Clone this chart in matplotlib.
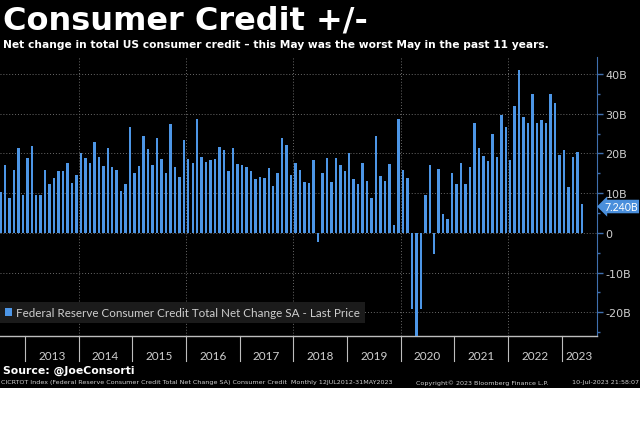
import numpy as np
import pandas as pd
import matplotlib
matplotlib.use("Agg")
import matplotlib.pyplot as plt
from matplotlib.patches import Rectangle

# Monthly net change in US consumer credit, $B (Jul 2012 - May 2023)
start_month = "2012-07-01"
net_change = [
    10.3, 17.1, 8.7, 15.9, 21.5, 9.6,                                  # 2012 H2
    18.8, 21.9, 9.6, 9.6, 15.9, 12.3, 13.9, 15.6, 15.6, 17.7, 12.5, 14.7,  # 2013
    20.2, 18.8, 17.5, 23.0, 19.0, 16.8, 21.5, 16.6, 15.9, 10.5, 12.4, 26.7,  # 2014
    15.0, 16.9, 24.5, 21.1, 17.2, 24.0, 18.6, 15.0, 27.3, 16.6, 14.0, 23.5,  # 2015
    18.7, 17.7, 28.7, 19.0, 17.9, 18.4, 18.6, 21.7, 20.8, 15.7, 21.3, 17.4,  # 2016
    17.2, 16.7, 15.6, 13.6, 14.0, 13.7, 16.3, 11.8, 15.1, 23.9, 22.1, 14.5,  # 2017
    17.6, 15.8, 12.8, 12.5, 18.3, -2.4, 15.2, 18.8, 12.7, 18.8, 17.1, 15.6,  # 2018
    20.1, 13.5, 12.3, 17.5, 13.1, 8.7, 24.4, 14.3, 13.1, 17.3, 2.0, 28.7,    # 2019
    15.8, 13.7, -19.2, -26.0, -19.2, 9.5, 17.0, -5.4, 16.2, 4.7, 3.5, 15.2,  # 2020
    12.2, 17.7, 12.2, 16.6, 27.7, 21.5, 19.4, 18.2, 24.8, 19.2, 29.7, 26.7,  # 2021
    18.3, 31.9, 40.9, 29.2, 27.8, 35.1, 27.8, 28.4, 27.8, 35.0, 32.8, 19.6,  # 2022
    20.9, 11.6, 19.0, 20.3, 7.24,                                      # 2023
]
years = list(range(2013, 2024))
yticks = [-20, -10, 0, 10, 20, 30, 40]
ytick_labels = ["-20B", "-10B", "0", "10B", "20B", "30B", "40B"]

title = "Consumer Credit +/-"
subtitle = "Net change in total US consumer credit \u2013 this May was the worst May in the past 11 years."
legend_label = "Federal Reserve Consumer Credit Total Net Change SA - Last Price"

months = pd.date_range(start_month, periods=len(net_change), freq="MS")
idx = np.arange(len(months))
first_year = months[0].year

bar_color = "#4d96e6"
text_grey = "#cfcfcf"
axis_blue = "#3f6fae"

fig = plt.figure(figsize=(6.4, 4.27), dpi=100, facecolor="black")
fig.patches.append(Rectangle((0, 0), 1, 38 / 427, transform=fig.transFigure,
                             facecolor="white", edgecolor="none", zorder=0))

ax = fig.add_axes([0.0, (427 - 336.7) / 427, 597 / 640, (336.7 - 58) / 427])
ax.set_facecolor("black")

bars = ax.bar(idx, net_change, width=0.55, color=bar_color, label=legend_label, zorder=3)

ax.set_xlim(-0.1, 133.4)
ax.set_ylim(-25.9, 44.3)

# right hand y axis
ax.yaxis.tick_right()
ax.set_yticks(yticks)
ax.set_yticklabels(ytick_labels)
ax.set_yticks(np.arange(-25, 45, 5), minor=True)
ax.tick_params(axis="y", which="major", colors=axis_blue, labelcolor=text_grey,
               labelsize=8, length=4, width=1, pad=2)
ax.tick_params(axis="y", which="minor", colors=axis_blue, length=2, width=1)
ax.set_xticks([])
for s in ["top", "left"]:
    ax.spines[s].set_visible(False)
ax.spines["right"].set_color(axis_blue)
ax.spines["bottom"].set_color("#bdbdbd")
ax.spines["bottom"].set_linewidth(1.0)

# grid
for y in yticks:
    ax.axhline(y, color="#6a6a6a", lw=0.7, ls=(0, (1, 2)), zorder=1)
year_edges = [(y - first_year) * 12 - months[0].month + 1 - 0.5 for y in years]
for y, e in zip(years, year_edges):
    if y % 2 == 0:
        ax.axvline(e, color="#6a6a6a", lw=0.7, ls=(0, (1, 2)), zorder=1)

# year strip under the axis
xtrans = ax.get_xaxis_transform()
strip = 25 / (336.7 - 58)
for y, e in zip(years, year_edges):
    ax.plot([e, e], [0, -strip], color="#bdbdbd", lw=0.8, transform=xtrans, clip_on=False)
    centre = e + 4.0 if y == years[-1] else e + 6
    ax.text(centre, -0.072, str(y), transform=xtrans, ha="center", va="center",
            color=text_grey, fontsize=8.5, family="Lato")

# last value tag
ax.annotate(f"{net_change[-1]:.3f}B", xy=(1.0, net_change[-1]), xycoords=ax.get_yaxis_transform(),
            xytext=(1.012, net_change[-1] - 0.6), textcoords=ax.get_yaxis_transform(),
            ha="left", va="center", color="white", fontsize=7.6, family="Lato",
            bbox=dict(boxstyle="larrow,pad=0.12", fc="#4a8fdc", ec="none"), annotation_clip=False)

leg = ax.legend(handles=[bars], loc="lower left", bbox_to_anchor=(0.0, 0.045), frameon=True,
                fancybox=False, handlelength=0.6, handleheight=0.6, handletextpad=0.3,
                borderpad=0.45, borderaxespad=0, prop={"family": "Lato", "size": 8.4})
leg.get_frame().set_facecolor("#1b1b1b")
leg.get_frame().set_edgecolor("none")
leg.get_frame().set_alpha(1)
for t in leg.get_texts():
    t.set_color(text_grey)

# titles and footer
fig.text(0.004, 1 - 21 / 427, title, color="white", fontsize=23, fontweight="bold",
         family="DejaVu Sans", va="center", ha="left")
fig.text(0.004, 1 - 45 / 427, subtitle, color="white", fontsize=7.7, fontweight="bold",
         family="DejaVu Sans", va="center", ha="left")
fig.text(0.005, 1 - 371 / 427, "Source: @JoeConsorti", color="white", fontsize=7.8,
         fontweight="bold", family="DejaVu Sans", va="center", ha="left")
fig.text(0.002, 1 - 383 / 427,
         "CICRTOT Index (Federal Reserve Consumer Credit Total Net Change SA) Consumer Credit  Monthly 12JUL2012-31MAY2023",
         color=text_grey, fontsize=4.6, family="DejaVu Sans", va="center", ha="left")
fig.text(416 / 640, 1 - 383 / 427, "Copyright\u00a9 2023 Bloomberg Finance L.P.", color=text_grey,
         fontsize=4.6, family="DejaVu Sans", va="center", ha="left")
fig.text(0.999, 1 - 383 / 427, "10-Jul-2023 21:58:07", color=text_grey, fontsize=4.6,
         family="DejaVu Sans", va="center", ha="right")

fig.savefig("out.png", dpi=100, facecolor=fig.get_facecolor())
